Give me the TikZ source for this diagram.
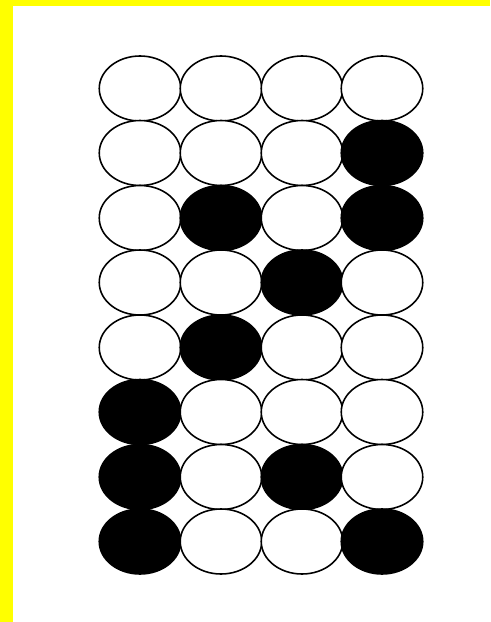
\documentclass[tikz,border=0pt]{standalone}
\usetikzlibrary{shapes.geometric}
\definecolor{framey}{RGB}{255,255,0}
\begin{document}
\begin{tikzpicture}[
  cell/.style={ellipse, draw, line width=0.9pt, inner sep=0pt, minimum width=1.63cm, minimum height=1.3cm, fill=white},
  dot/.style={cell, fill=black}
]
  \useasboundingbox (0,0) rectangle (9.8,-12.44);
  % Yellow frame (top and left)
  \fill[framey] (0,0) rectangle (9.8,-0.12);
  \fill[framey] (0,0) rectangle (0.26,-12.44);

  % Row 1
  \node[cell] (r1c1) at (2.80,-1.77) {};
  \node[cell] (r1c2) at (4.42,-1.77) {};
  \node[cell] (r1c3) at (6.04,-1.77) {};
  \node[cell] (r1c4) at (7.64,-1.77) {};
  % Row 2
  \node[cell] (r2c1) at (2.80,-3.06) {};
  \node[cell] (r2c2) at (4.42,-3.06) {};
  \node[cell] (r2c3) at (6.04,-3.06) {};
  \node[dot]  (r2c4) at (7.64,-3.06) {};
  % Row 3
  \node[cell] (r3c1) at (2.80,-4.36) {};
  \node[dot]  (r3c2) at (4.42,-4.36) {};
  \node[cell] (r3c3) at (6.04,-4.36) {};
  \node[dot]  (r3c4) at (7.64,-4.36) {};
  % Row 4
  \node[cell] (r4c1) at (2.80,-5.65) {};
  \node[cell] (r4c2) at (4.42,-5.65) {};
  \node[dot]  (r4c3) at (6.04,-5.65) {};
  \node[cell] (r4c4) at (7.64,-5.65) {};
  % Row 5
  \node[cell] (r5c1) at (2.80,-6.95) {};
  \node[dot]  (r5c2) at (4.42,-6.95) {};
  \node[cell] (r5c3) at (6.04,-6.95) {};
  \node[cell] (r5c4) at (7.64,-6.95) {};
  % Row 6
  \node[dot]  (r6c1) at (2.80,-8.24) {};
  \node[cell] (r6c2) at (4.42,-8.24) {};
  \node[cell] (r6c3) at (6.04,-8.24) {};
  \node[cell] (r6c4) at (7.64,-8.24) {};
  % Row 7
  \node[dot]  (r7c1) at (2.80,-9.54) {};
  \node[cell] (r7c2) at (4.42,-9.54) {};
  \node[dot]  (r7c3) at (6.04,-9.54) {};
  \node[cell] (r7c4) at (7.64,-9.54) {};
  % Row 8
  \node[dot]  (r8c1) at (2.80,-10.83) {};
  \node[cell] (r8c2) at (4.42,-10.83) {};
  \node[cell] (r8c3) at (6.04,-10.83) {};
  \node[dot]  (r8c4) at (7.64,-10.83) {};
\end{tikzpicture}
\end{document}
